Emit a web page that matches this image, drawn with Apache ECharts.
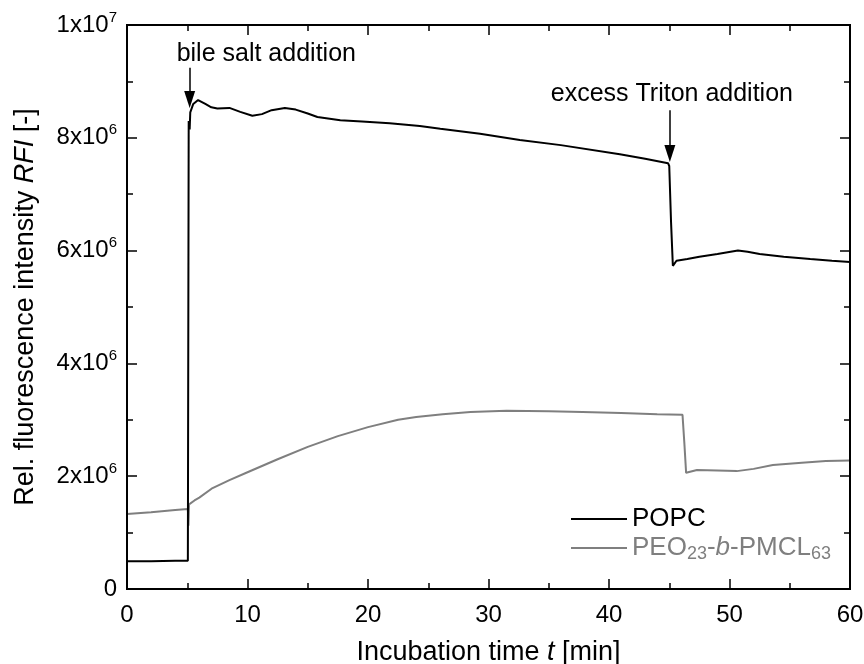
<!DOCTYPE html>
<html>
<head>
<meta charset="utf-8">
<script src="https://cdn.jsdelivr.net/npm/echarts@6/dist/echarts.min.js"></script>
<style>
  html, body { margin: 0; padding: 0; background: #fff; }
  #chart { width: 864px; height: 664px; }
</style>
</head>
<body>
<div id="chart"></div>
<script>
// Incubation time in minutes and relative fluorescence intensity in units of 10^6
const popcTime = [0, 2, 4, 5.05, 5.12, 5.2, 5.25, 5.5, 5.9, 6.5, 7.0, 7.5, 8.5, 9.4, 10.4, 11.2, 12.0, 13.1, 14.0, 15.0, 15.8, 17.7, 19.5, 21.8, 24.3, 26.0, 29.3, 32.6, 36.0, 40.9, 43.0, 44.9, 45.0, 45.15, 45.3, 45.6, 46.5, 47.5, 49.0, 50.7, 51.5, 52.5, 54.5, 56.7, 58.5, 60];
const popcRfi = [0.49, 0.49, 0.50, 0.50, 8.30, 8.15, 8.45, 8.60, 8.67, 8.60, 8.54, 8.52, 8.53, 8.46, 8.39, 8.42, 8.49, 8.53, 8.50, 8.43, 8.37, 8.31, 8.29, 8.26, 8.21, 8.16, 8.07, 7.96, 7.87, 7.71, 7.63, 7.55, 7.50, 6.50, 5.73, 5.82, 5.85, 5.89, 5.94, 6.00, 5.98, 5.94, 5.89, 5.85, 5.82, 5.80];

const peoTime = [0, 2, 4, 5.05, 5.1, 5.15, 5.3, 5.6, 6.0, 7.1, 8.5, 10, 12.5, 15, 17.5, 20, 22.5, 24, 26.2, 28.5, 31.5, 35, 37.8, 41, 44, 46.1, 46.25, 46.4, 47.3, 49, 50.6, 52, 53.6, 56, 58, 60];
const peoRfi = [1.33, 1.36, 1.40, 1.42, 1.12, 1.50, 1.53, 1.57, 1.62, 1.79, 1.93, 2.07, 2.30, 2.52, 2.71, 2.87, 3.00, 3.05, 3.10, 3.14, 3.16, 3.15, 3.14, 3.12, 3.10, 3.09, 2.60, 2.06, 2.11, 2.10, 2.09, 2.13, 2.20, 2.24, 2.27, 2.28];

const xTicks = [0, 10, 20, 30, 40, 50, 60];
const yTickLabels = { 0: '0', 2: '2x10|6', 4: '4x10|6', 6: '6x10|6', 8: '8x10|6', 10: '1x10|7' };

const annotationTimes = [5.2, 45.05];
const annotationLabels = ['bile salt addition', 'excess Triton addition'];

const FONT = 'Liberation Sans, Arial, sans-serif';
const GREY = '#7f7f7f';

const zip = (xs, ys) => xs.map((x, i) => [x, ys[i]]);

const chart = echarts.init(document.getElementById('chart'));

function axisLineStyle() { return { show: true, onZero: false, lineStyle: { color: '#000', width: 2 } }; }
function tickStyle() { return { show: true, inside: true, length: 10, lineStyle: { color: '#000', width: 1.5 } }; }
function minorStyle() { return { show: true, splitNumber: 2, length: 6, lineStyle: { color: '#000', width: 1.5 } }; }

function yLabel(v) {
  const s = yTickLabels[v];
  if (s === undefined) return '';
  if (s.indexOf('|') < 0) return '{b|' + s + '}';
  const parts = s.split('|');
  return '{b|' + parts[0] + '}{s|' + parts[1] + '}';
}

const option = {
  animation: false,
  backgroundColor: '#fff',
  textStyle: { fontFamily: FONT },
  grid: {
    left: 127, right: 14, top: 25, bottom: 75, containLabel: false, outerBoundsMode: 'none',
    show: true, borderColor: '#000', borderWidth: 2, backgroundColor: 'transparent'
  },
  xAxis: [
    {
      type: 'value', position: 'bottom', min: xTicks[0], max: xTicks[xTicks.length - 1], interval: 10,
      axisLine: axisLineStyle(), axisTick: tickStyle(), minorTick: minorStyle(), splitLine: { show: false },
      axisLabel: { color: '#000', fontSize: 24, fontFamily: FONT, margin: 14 },
      name: '{n|Incubation time }{i|t}{n| [min]}',
      nameLocation: 'middle', nameGap: 50,
      nameTextStyle: {
        rich: {
          n: { fontSize: 27, fontFamily: FONT, color: '#000' },
          i: { fontSize: 27, fontFamily: FONT, color: '#000', fontStyle: 'italic' }
        }
      }
    },
    {
      type: 'value', position: 'top', min: xTicks[0], max: xTicks[xTicks.length - 1], interval: 10,
      axisLine: axisLineStyle(), axisTick: tickStyle(), minorTick: minorStyle(), splitLine: { show: false },
      axisLabel: { show: false }
    }
  ],
  yAxis: [
    {
      type: 'value', position: 'left', min: 0, max: 10, interval: 2,
      axisLine: axisLineStyle(),
      axisTick: tickStyle(), minorTick: minorStyle(), splitLine: { show: false },
      axisLabel: {
        margin: 10,
        formatter: yLabel,
        rich: {
          b: { fontSize: 24, fontFamily: FONT, color: '#000', lineHeight: 30 },
          s: { fontSize: 15, fontFamily: FONT, color: '#000', lineHeight: 14, verticalAlign: 'top' }
        }
      },
      name: '{n|Rel. fluorescence intensity }{i|RFI}{n| [-]}',
      nameLocation: 'middle', nameGap: 88,
      nameTextStyle: {
        rich: {
          n: { fontSize: 27, fontFamily: FONT, color: '#000' },
          i: { fontSize: 27, fontFamily: FONT, color: '#000', fontStyle: 'italic' }
        }
      }
    },
    {
      type: 'value', position: 'right', min: 0, max: 10, interval: 2,
      axisLine: axisLineStyle(),
      axisTick: tickStyle(), minorTick: minorStyle(), splitLine: { show: false },
      axisLabel: { show: false }
    }
  ],
  legend: {
    orient: 'vertical', left: 566, top: 499, itemGap: 1,
    itemWidth: 56, itemHeight: 2, icon: 'rect',
    data: [
      { name: 'POPC', textStyle: { color: '#000', fontSize: 26, fontFamily: FONT, lineHeight: 30 } },
      { name: 'PEO23-b-PMCL63' }
    ],
    formatter: function (name) {
      if (name === 'POPC') return name;
      return '{g|PEO}{gs|23}{g|-}{gi|b}{g|-PMCL}{gs|63}';
    },
    textStyle: {
      fontSize: 26, fontFamily: FONT, color: GREY,
      rich: {
        g: { fontSize: 26, fontFamily: FONT, color: GREY, lineHeight: 30 },
        gi: { fontSize: 26, fontFamily: FONT, color: GREY, fontStyle: 'italic', lineHeight: 30 },
        gs: { fontSize: 18, fontFamily: FONT, color: GREY, lineHeight: 12, verticalAlign: 'bottom' }
      }
    }
  },
  series: [
    {
      name: 'POPC', type: 'line', xAxisIndex: 0, yAxisIndex: 0,
      data: zip(popcTime, popcRfi), showSymbol: false, symbol: 'none', z: 3,
      lineStyle: { color: '#000', width: 2 }, itemStyle: { color: '#000' },
      markLine: {
        silent: true, symbol: ['none', 'triangle'], symbolSize: [11, 17], precision: 3,
        lineStyle: { color: '#000', width: 1.5, type: 'solid' },
        label: { show: false },
        data: [
          [{ coord: [annotationTimes[0], 9.24] }, { coord: [annotationTimes[0], 8.68] }],
          [{ coord: [annotationTimes[1], 8.49] }, { coord: [annotationTimes[1], 7.72] }]
        ]
      }
    },
    {
      // plotted against the mirrored top/right axes, which share the same ranges
      name: 'PEO23-b-PMCL63', type: 'line', xAxisIndex: 1, yAxisIndex: 1,
      data: zip(peoTime, peoRfi), showSymbol: false, symbol: 'none', z: 2,
      lineStyle: { color: GREY, width: 2 }, itemStyle: { color: GREY }
    }
  ]
};

chart.setOption(option);

// Plot frame and annotation texts, positioned from the axis scales
const c00 = chart.convertToPixel({ gridIndex: 0 }, [0, 0]);
const c11 = chart.convertToPixel({ gridIndex: 0 }, [60, 10]);
const p1 = chart.convertToPixel({ gridIndex: 0 }, [annotationTimes[0], 9.24]);
const p2 = chart.convertToPixel({ gridIndex: 0 }, [annotationTimes[1], 8.49]);
chart.setOption({
  graphic: [
    {
      type: 'rect', z: 100, silent: true,
      shape: { x: c00[0], y: c11[1], width: c11[0] - c00[0], height: c00[1] - c11[1] },
      style: { fill: 'none', stroke: '#000', lineWidth: 2 }
    },
    {
      type: 'text', x: p1[0] - 13, y: p1[1] - 14,
      style: { text: annotationLabels[0], font: '25px ' + FONT, fill: '#000', align: 'left', verticalAlign: 'middle' }
    },
    {
      type: 'text', x: p2[0] + 2, y: p2[1] - 16,
      style: { text: annotationLabels[1], font: '25px ' + FONT, fill: '#000', align: 'center', verticalAlign: 'middle' }
    }
  ]
});
</script>
</body>
</html>
